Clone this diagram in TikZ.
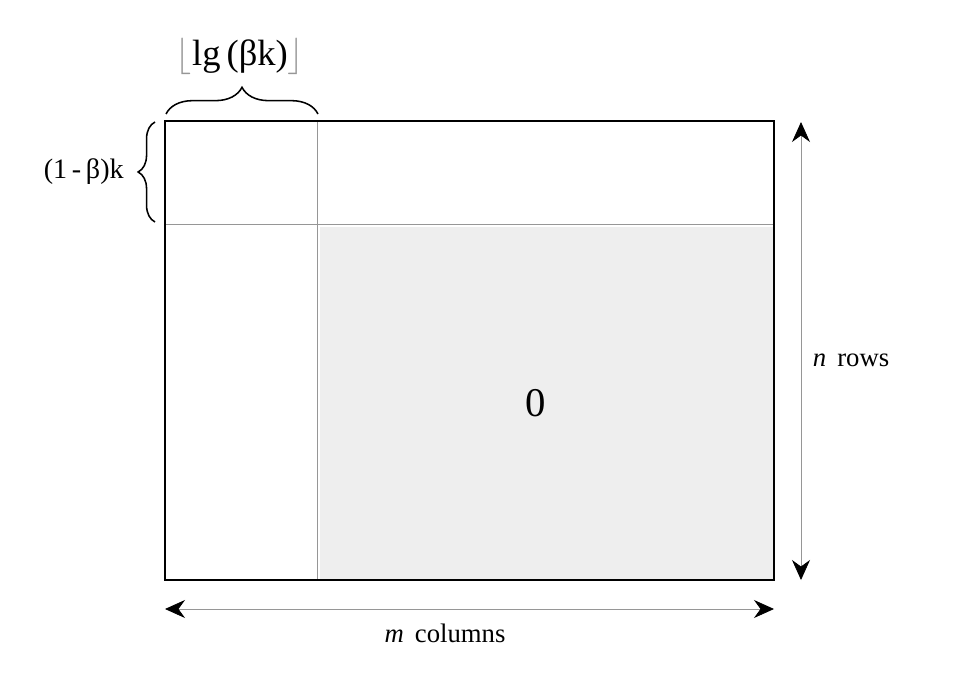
\documentclass[tikz,border=0pt]{standalone}
\usepackage{fontspec}
\setmainfont{Liberation Serif}
\usepackage{unicode-math}
\setmathfont{Latin Modern Math}
\usetikzlibrary{arrows.meta,decorations.pathreplacing}
\definecolor{zerogrey}{RGB}{238,238,238}
\definecolor{rulegrey}{RGB}{150,150,150}

\begin{document}
\begin{tikzpicture}[x=0.025cm, y=-0.025cm,
    outer/.style={draw=black, line width=1.4pt},
    split/.style={draw=rulegrey, line width=0.6pt},
    dim/.style={{Stealth[black,length=0.5cm,width=0.45cm]}-{Stealth[black,length=0.5cm,width=0.45cm]}, rulegrey, line width=0.6pt},
    brc/.style={decorate, decoration={brace, amplitude=#1}, line width=1.1pt},
    lbl/.style={font=\fontsize{19}{22}\selectfont, inner sep=0pt}
]
    \useasboundingbox (0,0) rectangle (960,676);

    % corners and split points of the matrix
    \coordinate (tl) at (165,121);
    \coordinate (br) at (774,580);
    \coordinate (colsplit) at (317,121);
    \coordinate (rowsplit) at (165,224);

    % zero block
    \fill[zerogrey] (320,227) rectangle (773,579);
    \draw[split] (colsplit) -- (colsplit |- br);
    \draw[split] (rowsplit) -- (rowsplit -| br);
    \draw[outer] (tl) rectangle (br);
    \node[font=\fontsize{29}{32}\selectfont, inner sep=0pt] (zero) at (536,403) {0};

    % braces
    \coordinate (topL) at (166,114);
    \coordinate (topR) at (318,114);
    \draw[brc=19pt] (topL) -- (topR);
    \node[lbl, font=\fontsize{26}{30}\selectfont] (lgbk) at (240,56)
        {{\color{rulegrey}$\lfloor$}lg\,(βk){\color{rulegrey}$\rfloor$}};

    \coordinate (leftB) at (155,222);
    \coordinate (leftT) at (155,122);
    \draw[brc=12pt] (leftB) -- (leftT);
    \node[lbl, font=\fontsize{20}{24}\selectfont, anchor=east] (rowlbl) at (124,172) {(1\,-\,β)k};

    % dimension arrows
    \coordinate (nTop) at (801,122);
    \coordinate (nBot) at (801,580);
    \draw[dim] (nTop) -- (nBot);
    \node[lbl] (rows) at (851,360) {\textit{n}\, rows};

    \coordinate (mLeft) at (165,609);
    \coordinate (mRight) at (774,609);
    \draw[dim] (mLeft) -- (mRight);
    \node[lbl] (cols) at (445,633) {\textit{m}\, columns};
\end{tikzpicture}
\end{document}
